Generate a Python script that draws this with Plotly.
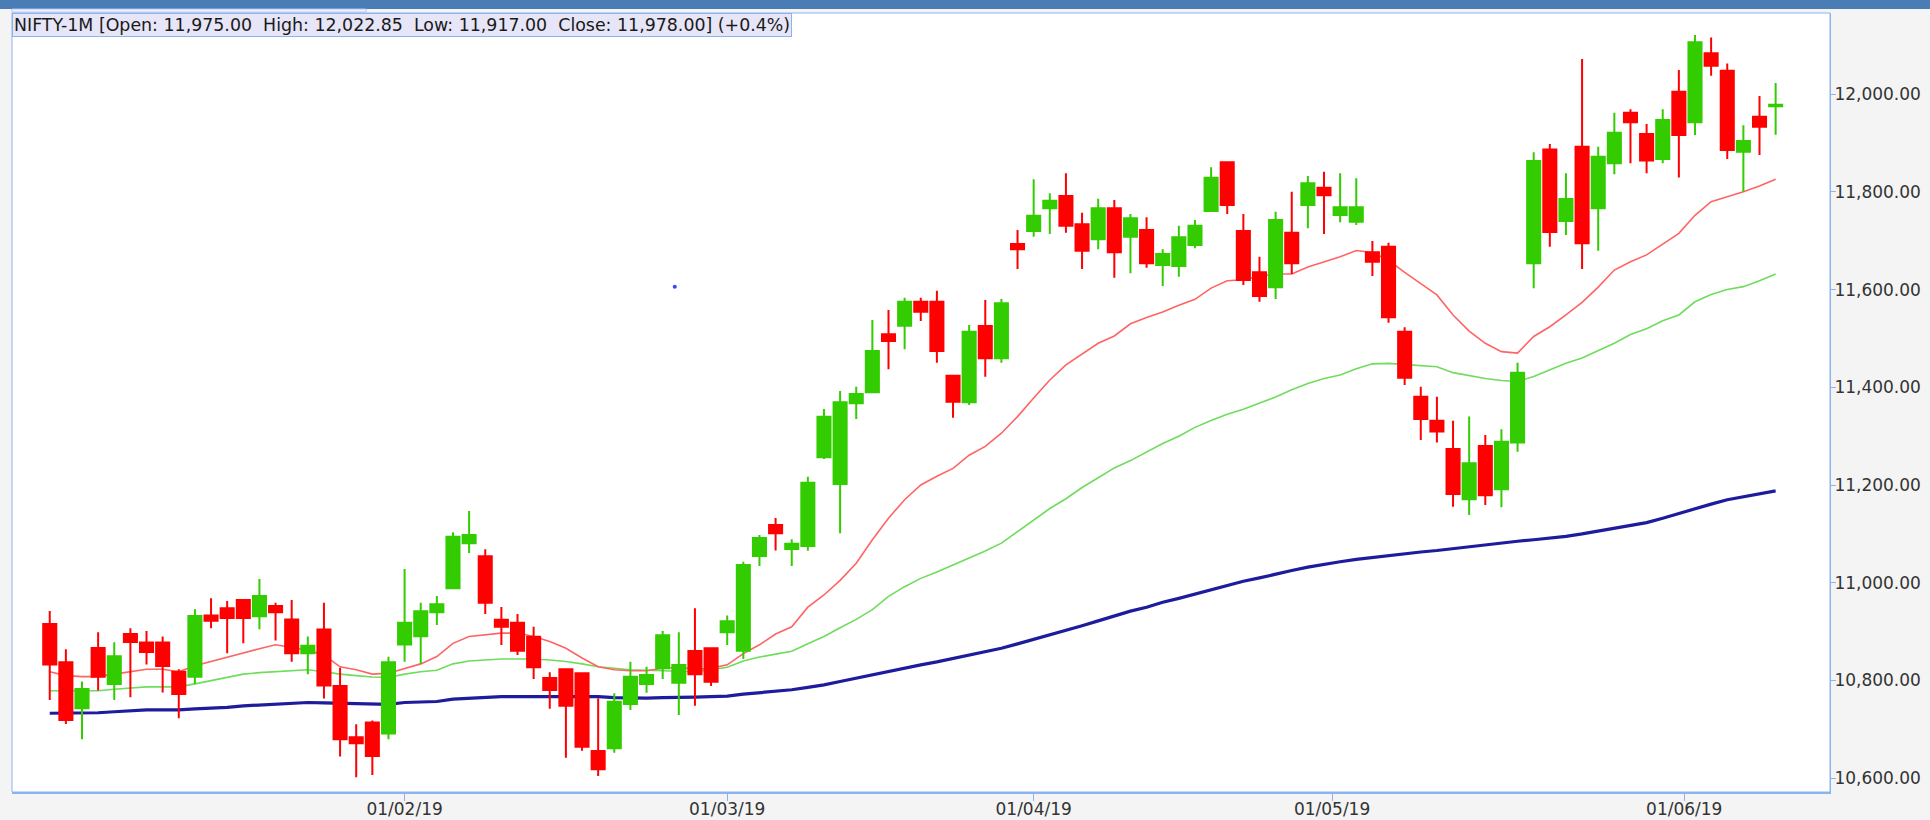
import numpy as np
import pandas as pd
import plotly.graph_objects as go

# ---------------- data ----------------
holidays = ["2019-03-04", "2019-03-21", "2019-04-17", "2019-04-19",
            "2019-04-29", "2019-05-01", "2019-06-05"]
dates = [d for d in pd.bdate_range("2019-01-02", "2019-06-11")
         if d.strftime("%Y-%m-%d") not in holidays]

opens = [10915.7, 10837.2, 10743.1, 10866.6, 10792.9, 10895.2, 10877.5, 10877.5, 10818.1, 10807.9,
         10932.8, 10947.7, 10964.8, 10931.4, 10952.5, 10924.6, 10855.7, 10904.1, 10788.8, 10683.8,
         10713.8, 10691.3, 10873.4, 10890.4, 10939.6, 10988.7, 11080.8, 11054.1, 10924.5, 10918.4,
         10889.7, 10805.1, 10822.9, 10814.7, 10655.8, 10661.2, 10751.9, 10792.9, 10824.9, 10795.6,
         10860.4, 10865.8, 10898.6, 10861.1, 11055.0, 11118.2, 11069.1, 11075.2, 11256.7, 11202.2,
         11367.2, 11389.7, 11508.4, 11526.2, 11575.3, 11575.3, 11423.8, 11369.3, 11525.5, 11459.3,
         11693.2, 11719.8, 11766.2, 11791.5, 11733.5, 11702.8, 11766.2, 11708.3, 11721.9, 11650.3,
         11648.2, 11691.2, 11760.8, 11860.4, 11719.8, 11635.3, 11604.6, 11716.4, 11773.1, 11808.5,
         11752.6, 11738.9, 11676.2, 11687.8, 11513.9, 11380.9, 11331.8, 11273.8, 11170.8, 11279.9,
         11191.3, 11286.8, 11653.7, 11886.9, 11740.3, 11892.4, 11766.2, 11858.3, 11962.0, 11918.3,
         11867.2, 12004.9, 11942.2, 12083.4, 12047.9, 11882.2, 11953.8, 11975.00]
highs = [10942.3, 10863.8, 10797.7, 10898.6, 10878.2, 10906.8, 10901.4, 10889.8, 10822.9, 10945.7,
         10968.2, 10962.8, 10966.2, 11007.8, 10959.3, 10964.8, 10889.8, 10959.3, 10826.3, 10710.4,
         10717.9, 10848.8, 11028.2, 10959.3, 10973.0, 11103.3, 11146.9, 11068.4, 10950.4, 10936.1,
         10910.2, 10816.7, 10823.5, 10815.5, 10763.5, 10773.8, 10838.6, 10828.3, 10901.3, 10898.6,
         10947.7, 10866.5, 10933.0, 11043.2, 11097.8, 11132.5, 11088.9, 11217.2, 11355.6, 11392.5,
         11401.3, 11537.8, 11558.2, 11583.5, 11583.5, 11597.8, 11424.5, 11527.5, 11578.7, 11580.5,
         11721.9, 11825.6, 11796.9, 11837.9, 11757.4, 11786.0, 11783.3, 11754.6, 11747.8, 11682.3,
         11730.8, 11742.4, 11850.1, 11861.7, 11754.6, 11667.3, 11759.4, 11800.3, 11832.4, 11841.3,
         11837.9, 11828.0, 11699.4, 11696.0, 11522.8, 11401.3, 11380.9, 11331.8, 11340.0, 11302.4,
         11314.0, 11450.5, 11880.8, 11897.9, 11837.8, 12071.8, 11892.4, 11962.0, 11968.8, 11938.8,
         11968.8, 12049.3, 12120.9, 12116.1, 12062.9, 11936.1, 11996.1, 12022.85]
lows = [10760.2, 10711.0, 10679.7, 10779.3, 10760.2, 10765.6, 10832.5, 10775.2, 10722.6, 10792.9,
        10906.8, 10855.7, 10876.1, 10904.8, 10881.6, 10838.6, 10812.7, 10762.9, 10644.2, 10601.9,
        10606.7, 10679.7, 10838.6, 10833.8, 10913.6, 10987.3, 11061.0, 10936.1, 10872.7, 10852.2,
        10803.1, 10742.4, 10642.1, 10656.4, 10604.6, 10652.3, 10739.7, 10775.1, 10803.1, 10729.4,
        10748.5, 10788.8, 10872.7, 10844.0, 11034.5, 11066.0, 11034.5, 11065.7, 11253.3, 11101.2,
        11335.2, 11389.0, 11436.8, 11477.7, 11535.7, 11450.5, 11337.9, 11363.8, 11421.8, 11450.5,
        11642.1, 11708.3, 11713.7, 11716.4, 11642.1, 11682.3, 11624.4, 11633.2, 11644.8, 11607.3,
        11626.4, 11684.4, 11760.0, 11754.6, 11609.3, 11575.2, 11580.7, 11631.9, 11725.3, 11713.7,
        11737.6, 11732.0, 11627.8, 11532.3, 11404.8, 11292.2, 11286.8, 11155.8, 11138.7, 11159.2,
        11154.4, 11268.3, 11602.5, 11687.8, 11711.6, 11642.1, 11679.6, 11835.8, 11858.3, 11837.8,
        11858.3, 11829.6, 11916.3, 12037.7, 11867.2, 11800.3, 11875.3, 11917.00]
closes = [10832.5, 10719.2, 10782.7, 10807.9, 10849.5, 10878.9, 10858.4, 10829.7, 10772.4, 10932.1,
          10922.5, 10928.0, 10928.0, 10973.0, 10939.6, 10855.7, 10871.3, 10789.5, 10679.7, 10671.5,
          10645.6, 10837.2, 10918.4, 10941.6, 10955.9, 11094.4, 11097.8, 10959.3, 10910.2, 10861.1,
          10827.0, 10780.6, 10748.5, 10664.6, 10618.2, 10756.7, 10807.9, 10811.3, 10892.4, 10831.7,
          10812.6, 10797.6, 10921.0, 11036.4, 11091.5, 11101.2, 11080.0, 11204.8, 11339.9, 11369.3,
          11386.3, 11474.3, 11494.8, 11575.3, 11554.8, 11474.3, 11370.6, 11513.9, 11459.3, 11571.9,
          11682.3, 11751.2, 11781.9, 11730.8, 11679.6, 11766.2, 11676.2, 11745.8, 11653.7, 11672.8,
          11706.9, 11730.8, 11829.0, 11773.1, 11619.6, 11586.8, 11742.4, 11653.7, 11817.4, 11792.8,
          11768.3, 11768.3, 11657.1, 11543.2, 11419.8, 11335.2, 11309.3, 11181.7, 11244.5, 11179.0,
          11288.8, 11430.0, 11863.1, 11717.8, 11785.3, 11694.6, 11871.9, 11921.1, 11942.2, 11864.4,
          11947.0, 11916.3, 12105.9, 12058.2, 11885.6, 11904.0, 11933.3, 11978.00]

ma_fast = [10818, 10810, 10808, 10808, 10813, 10818, 10823, 10823, 10818, 10830,
           10839, 10848, 10856, 10865, 10873, 10867, 10862, 10852, 10828, 10822,
           10813, 10815, 10825, 10834, 10849, 10876, 10890, 10894, 10897, 10897,
           10890, 10880, 10866, 10846, 10828, 10822, 10820, 10820, 10825, 10827,
           10823, 10825, 10832, 10855, 10873, 10895, 10910, 10950, 10975, 11005,
           11040, 11088, 11132, 11170, 11200, 11218, 11234, 11261, 11279, 11306,
           11340, 11378, 11415, 11446, 11468, 11490, 11505, 11530, 11543, 11554,
           11568, 11580, 11603, 11618, 11620, 11627, 11632, 11632, 11646, 11657,
           11667, 11680, 11676, 11660, 11635, 11612, 11589, 11548, 11515, 11490,
           11473, 11470, 11504, 11524, 11548, 11574, 11605, 11640, 11657, 11671,
           11693, 11715, 11752, 11780, 11790, 11800, 11812, 11826]
ma_mid = [10779, 10779, 10779, 10779, 10782, 10785, 10787, 10787, 10787, 10793,
          10800, 10806, 10813, 10816, 10818, 10820, 10822, 10818, 10813, 10810,
          10807, 10806, 10813, 10818, 10821, 10834, 10840, 10842, 10844, 10844,
          10844, 10842, 10839, 10834, 10828, 10825, 10822, 10821, 10820, 10819,
          10818, 10822, 10827, 10840, 10848, 10854, 10860, 10875, 10890, 10908,
          10925, 10945, 10972, 10992, 11009, 11022, 11036, 11050, 11065, 11081,
          11105, 11128, 11152, 11172, 11195, 11215, 11235, 11250, 11268, 11285,
          11300, 11318, 11332, 11345, 11355, 11368, 11380, 11395, 11408, 11418,
          11425, 11438, 11448, 11449, 11447, 11444, 11442, 11430, 11424, 11418,
          11414, 11412, 11422, 11436, 11449, 11460, 11475, 11490, 11508, 11520,
          11536, 11548, 11575, 11590, 11600, 11606, 11618, 11632]
ma_slow = [10733, 10733, 10733, 10734, 10736, 10738, 10740, 10740, 10740, 10742,
           10743, 10745, 10748, 10750, 10752, 10753, 10755, 10754, 10753, 10752,
           10751, 10751, 10755, 10756, 10757, 10762, 10764, 10766, 10767, 10767,
           10767, 10767, 10767, 10767, 10767, 10765, 10764, 10764, 10765, 10765,
           10766, 10767, 10768, 10772, 10775, 10778, 10781, 10786, 10791, 10798,
           10805, 10812, 10818, 10825, 10832, 10838, 10845, 10852, 10858, 10866,
           10875, 10884, 10893, 10903, 10912, 10922, 10932, 10942, 10950, 10960,
           10968, 10977, 10985, 10995, 11003, 11010, 11018, 11025, 11032, 11038,
           11043, 11048, 11052, 11056, 11060, 11063, 11066, 11070, 11074, 11078,
           11082, 11085, 11088, 11091, 11095, 11100, 11106, 11112, 11118, 11123,
           11132, 11142, 11152, 11161, 11170, 11176, 11182, 11188]

tick_dates = ["2019-02-01", "2019-03-01", "2019-04-01", "2019-05-01", "2019-06-01"]
tick_labels = ["01/02/19", "01/03/19", "01/04/19", "01/05/19", "01/06/19"]
y_ticks = [10600, 10800, 11000, 11200, 11400, 11600, 11800, 12000]
cursor_idx = [38.75]
cursor_val = [11606]
title_text = ("NIFTY-1M [Open: 11,975.00\u00a0\u00a0High: 12,022.85\u00a0\u00a0"
              "Low: 11,917.00\u00a0\u00a0Close: 11,978.00] (+0.4%)")

# ---------------- geometry ----------------
W, H = 1930, 820
ML, MR, MT, MB = 12, 100, 13, 28
PW, PH = W - ML - MR, H - MT - MB

x = list(range(len(dates)))
ords = np.array([d.toordinal() for d in dates], dtype=float)
tick_pos = np.interp([pd.Timestamp(t).toordinal() for t in tick_dates], ords, x)

FONT = "DejaVu Sans"
BORDER = "#8db3ee"

fig = go.Figure()
for vals, col, wd in [(ma_slow, "#1c1c9c", 3.2), (ma_mid, "#6fdc5c", 1.6), (ma_fast, "#ff6464", 1.6)]:
    fig.add_trace(go.Scatter(x=x, y=vals, mode="lines", line=dict(color=col, width=wd),
                             hoverinfo="skip", showlegend=False, xaxis="x", yaxis="y"))
fig.add_trace(go.Scatter(x=cursor_idx, y=cursor_val, mode="markers",
                         marker=dict(color="#4040ff", size=4), hoverinfo="skip",
                         showlegend=False))
fig.add_trace(go.Candlestick(
    x=x, open=opens, high=highs, low=lows, close=closes,
    increasing=dict(line=dict(color="#33cc00", width=2), fillcolor="#33cc00"),
    decreasing=dict(line=dict(color="#ff0000", width=2), fillcolor="#ff0000"),
    whiskerwidth=0, showlegend=False, xaxis="x", yaxis="y2"))

xr = [-2.34, 110.37]
yr = [10571.8, 12166.0]
fig.update_layout(
    width=W, height=H,
    margin=dict(l=ML, r=MR, t=MT, b=MB, pad=0, autoexpand=False),
    paper_bgcolor="#f4f4f4", plot_bgcolor="white",
    boxgap=0.19, boxgroupgap=0,
    showlegend=False,
    font=dict(family=FONT, size=17, color="#333333"),
    xaxis=dict(range=xr, showgrid=False, zeroline=False, rangeslider=dict(visible=False),
               tickvals=list(tick_pos), ticktext=tick_labels, ticks="outside", ticklen=7,
               tickcolor=BORDER, showline=True, linecolor=BORDER, linewidth=2,
               automargin=False, ticklabelstandoff=-6,
               tickfont=dict(family=FONT, size=17, color="#333333")),
    yaxis=dict(range=yr, side="right", showgrid=False, zeroline=False,
               tickvals=y_ticks, tickformat=",.2f", ticks="outside", ticklen=5,
               tickcolor=BORDER, showline=True, linecolor=BORDER, linewidth=1,
               automargin=False, ticklabelstandoff=-5,
               tickfont=dict(family=FONT, size=17, color="#333333")),
    yaxis2=dict(range=yr, overlaying="y", side="right", visible=False,
                showgrid=False, zeroline=False, automargin=False),
)

# plot frame
fig.add_shape(type="rect", xref="paper", yref="paper", x0=0, x1=1, y0=0, y1=1,
              line=dict(color=BORDER, width=1), fillcolor="rgba(0,0,0,0)", layer="above")
# top blue bar
fig.add_shape(type="rect", xref="paper", yref="paper",
              x0=-ML / PW - 0.01, x1=(W - ML) / PW + 0.01,
              y0=(PH + MT - 9) / PH, y1=(PH + MT) / PH + 0.01,
              line=dict(width=0), fillcolor="#4a7cb5", layer="above")
# small tab under the bar
fig.add_shape(type="rect", xref="paper", yref="paper",
              x0=0, x1=(366 - ML) / PW,
              y0=(PH + 1) / PH, y1=(PH + MT - 9) / PH,
              line=dict(color="#aac4ee", width=1), fillcolor="#f7f7fb", layer="above")

fig.add_annotation(text=title_text, xref="paper", yref="paper", x=0, y=1,
                   xanchor="left", yanchor="top", showarrow=False, align="left",
                   bgcolor="#e6e6f8", bordercolor=BORDER, borderwidth=1, borderpad=1,
                   font=dict(family=FONT, size=17.4, color="#1a1a1a"))

fig.write_html("out.html", config={"displayModeBar": False},
               post_script="document.body.style.margin='0';document.body.style.overflow='hidden';")
